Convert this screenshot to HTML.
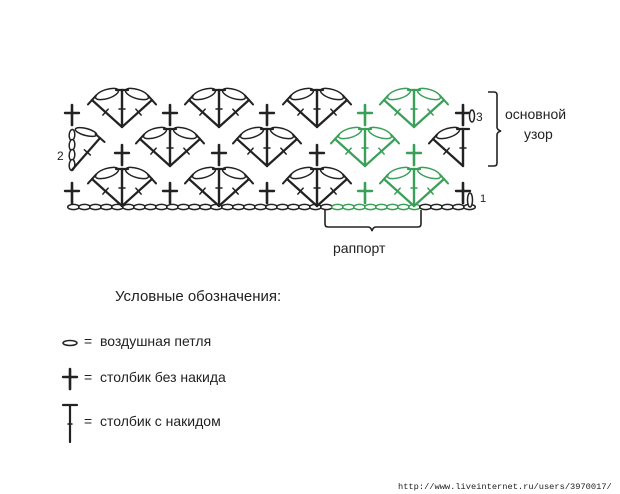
<!DOCTYPE html>
<html><head><meta charset="utf-8"><style>
html,body{margin:0;padding:0;background:#fff;width:620px;height:494px;overflow:hidden}
svg{display:block}
text{font-family:"Liberation Sans",sans-serif;fill:#222}
</style></head><body>
<svg id="s" width="620" height="494" viewBox="0 0 620 494" xmlns="http://www.w3.org/2000/svg">
<text x="57" y="160" font-size="12">2</text>
<text x="476" y="121" font-size="12">3</text>
<text x="480" y="202" font-size="11">1</text>
<text x="505" y="119" font-size="14">основной</text>
<text x="524" y="139" font-size="14">узор</text>
<text x="333" y="253" font-size="14">раппорт</text>
<text x="115" y="301" font-size="15">Условные обозначения:</text>
<text x="100" y="346" font-size="14">воздушная петля</text>
<text x="100" y="382" font-size="14">столбик без накида</text>
<text x="100" y="426" font-size="14">столбик с накидом</text>
<text x="84" y="346" font-size="14">=</text>
<text x="84" y="382" font-size="14">=</text>
<text x="84" y="426" font-size="14">=</text>
<text x="398" y="489" font-size="8.7" style="font-family:'Liberation Mono',monospace">http://www.liveinternet.ru/users/3970017/</text>
<g fill="none" stroke="#222" stroke-width="1.6">
<path d="M488,92 h6 q3,0 3,3 v32 q0,3 4,4 q-4,1 -4,4 v28 q0,3 -3,3 h-6"/>
<path d="M325,210 v14 q0,3 3,3 h40 q3,0 4,4 q1,-4 4,-4 h42 q3,0 3,-3 v-14"/>
</g>
<g id="g"></g>
</svg>
<script>
var g=document.getElementById('g'),out='';
var K='#222',G='#3a9f58';
function L(x1,y1,x2,y2,c,w){out+='<line x1="'+x1+'" y1="'+y1+'" x2="'+x2+'" y2="'+y2+'" stroke="'+c+'" stroke-width="'+(w||2)+'" stroke-linecap="round"/>';}
function E(cx,cy,rx,ry,a,c){out+='<ellipse cx="'+cx+'" cy="'+cy+'" rx="'+rx+'" ry="'+ry+'" transform="rotate('+a+' '+cx+' '+cy+')" fill="#fff" stroke="'+c+'" stroke-width="1.5"/>';}
function cross(x,y,c){L(x,y-10,x,y+10,c,2.6);L(x-7,y-2,x+7,y-2,c,2.4);}
function dc(x1,y1,x2,y2,c){L(x1,y1,x2,y2,c,2.2);var dx=x2-x1,dy=y2-y1,l=Math.hypot(dx,dy),px=-dy/l,py=dx/l;
 L(x2-px*6,y2-py*6,x2+px*6,y2+py*6,c,2);var mx=x1+dx*0.55,my=y1+dy*0.55;L(mx-px*4,my-py*4,mx+px*4,my+py*4,c,1.5);}
function fan(cx,by,c,half){var ty=by-37;
 E(cx-15,ty+4,12,4.5,-18,c); if(!half)E(cx+15,ty+4,12,4.5,18,c);
 dc(cx,by,cx-30,ty+10,c); if(!half)dc(cx,by,cx+30,ty+10,c);
 L(cx,by,cx,ty,c,2.4);L(cx-6,ty,cx+6,ty,c,2.2);L(cx-3,by-18,cx+3,by-18,c,1.5);}
// chain
for(var x=68;x<466;x+=11){var c=(x>=322&&x<=414)?G:K;E(x+5.5,207,5.8,2.6,0,c);}
E(470,200,2.5,7,0,K);
// row1
[122,219,317].forEach(function(x){fan(x,206,K)});fan(414,206,G);
[72,170,267,463].forEach(function(x){cross(x,193,K)});cross(365,193,G);
// row2
[170,267].forEach(function(x){fan(x,166,K)});fan(365,166,G);fan(463,166,K,true);
[122,219,317].forEach(function(x){cross(x,155,K)});cross(414,155,G);
// turn chain row2
for(var i=0;i<4;i++)E(72,135+i*10,2.8,5.5,4,K);
E(86,132,11,3.5,15,K);dc(72,170,100,138,K);
// row3
[122,219,317].forEach(function(x){fan(x,127,K)});fan(414,127,G);
[72,170,267,463].forEach(function(x){cross(x,115,K)});cross(365,115,G);
E(472,116,2.5,6,0,K);
// legend
E(70,343,7,2.5,0,K);
cross(70,379,K);
L(70,405,70,442,K,2.2);L(63,405,77,405,K,2.2);L(68,424,72,424,K,1.5);
g.innerHTML=out;
</script>
</body></html>
